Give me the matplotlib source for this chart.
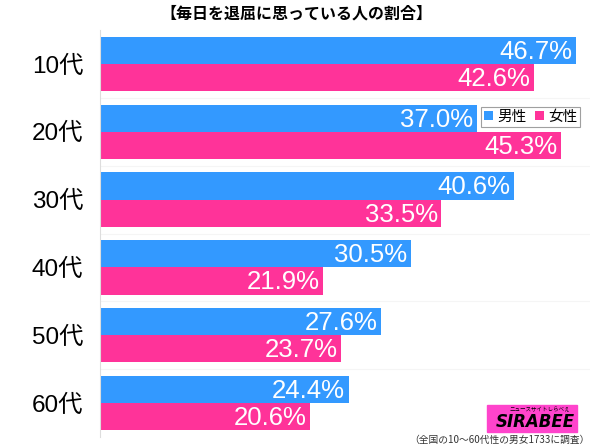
import matplotlib
matplotlib.use("Agg")
import matplotlib.pyplot as plt
import matplotlib.patches as patches
import numpy as np

plt.rcParams['font.family'] = ['Noto Sans CJK JP', 'DejaVu Sans']

categories = ["10代", "20代", "30代", "40代", "50代", "60代"]
male = [46.7, 37.0, 40.6, 30.5, 27.6, 24.4]
female = [42.6, 45.3, 33.5, 21.9, 23.7, 20.6]
series_names = ["男性", "女性"]
title = "【毎日を退屈に思っている人の割合】"
note = "（全国の10～60代性の男女1733に調査）"

blue = "#3399ff"
pink = "#ff3399"
num_font = ['Liberation Sans', 'Noto Sans CJK JP']

fig = plt.figure(figsize=(6, 4.46), dpi=100)
ax = fig.add_axes([100 / 600, 1 - 437 / 446, 490 / 600, 407 / 446])

y = np.arange(len(categories))
h = 0.40
bm = ax.barh(y - h / 2, male, height=h, color=blue, label=series_names[0])
bf = ax.barh(y + h / 2, female, height=h, color=pink, label=series_names[1])

for bars, vals in ((bm, male), (bf, female)):
    for b, v in zip(bars, vals):
        ax.text(v - 0.35, b.get_y() + b.get_height() / 2 + 0.02, f"{v:.1f}%",
                ha="right", va="center", color="white", fontsize=18.5,
                family=num_font)

ax.set_xlim(0, 48.1)
ax.set_ylim(len(categories) - 0.5, -0.5)
ax.set_yticks(y)
ax.set_yticklabels(categories, fontsize=17.5, family=num_font)
ax.tick_params(axis="y", length=0, pad=12)
ax.set_xticks([])
for s in ["top", "right", "bottom"]:
    ax.spines[s].set_visible(False)
ax.spines["left"].set_color("#dddddd")
for yy in y[:-1] + 0.5:
    ax.axhline(yy, color="#f5f5f5", lw=0.8, zorder=0)

leg = ax.legend(loc="upper left", bbox_to_anchor=(381 / 490, 1 - 77 / 407),
                ncol=2, fontsize=10.5, handlelength=0.6, handleheight=0.6,
                handletextpad=0.3, columnspacing=0.6, borderpad=0.2,
                fancybox=False, frameon=True, borderaxespad=0)
leg.get_frame().set_edgecolor("#888888")
leg.get_frame().set_linewidth(0.8)

fig.text(296 / 600, 1 - 14 / 446, title, ha="center", va="center",
         fontsize=11.5, fontweight="bold")

# logo
fig.patches.append(patches.Rectangle((487 / 600, 1 - 432 / 446), 90 / 600, 27 / 446,
                                     transform=fig.transFigure, color="#ff44cc", zorder=5))
fig.text(535 / 600, 1 - 422 / 446, "SIRABEE", ha="center", va="center",
         fontsize=12, fontweight="bold", style="italic", color="black", zorder=6,
         family="DejaVu Sans")
fig.text(540 / 600, 1 - 410 / 446, "ニュースサイトしらべぇ", ha="center", va="center",
         fontsize=4, color="black", zorder=6)
fig.text(590 / 600, 1 - 440 / 446, note, ha="right", va="center", fontsize=7, color="#333333")

fig.savefig("out.png", dpi=100)
